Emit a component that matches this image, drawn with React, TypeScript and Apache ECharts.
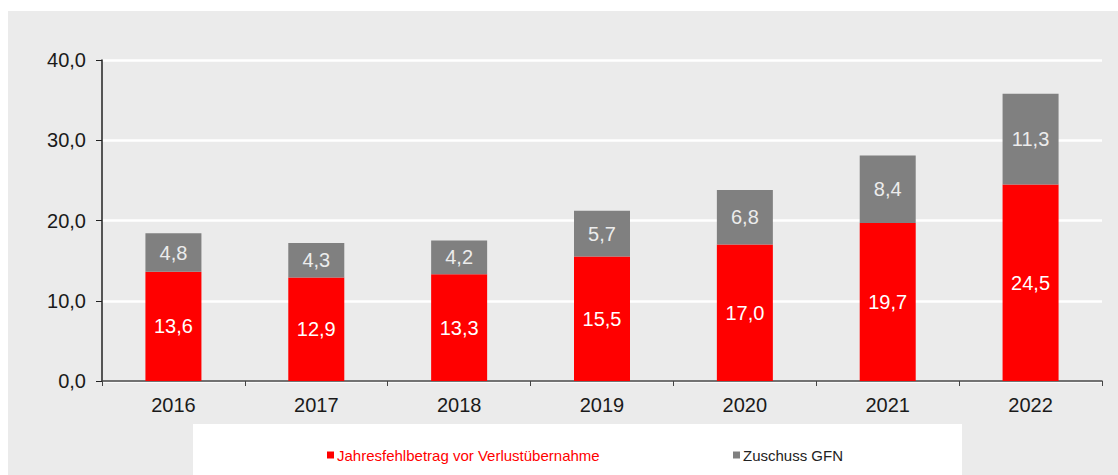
import React, { useEffect, useRef } from "react";
import * as echarts from "echarts";

const years = ["2016", "2017", "2018", "2019", "2020", "2021", "2022"];
const jahresfehlbetrag = [13.6, 12.9, 13.3, 15.5, 17.0, 19.7, 24.5];
const zuschuss = [4.8, 4.3, 4.2, 5.7, 6.8, 8.4, 11.3];
const seriesNames = ["Jahresfehlbetrag vor Verlustübernahme", "Zuschuss GFN"];
const yTicks = { min: 0, max: 40, interval: 10 };

const FONT = '"Liberation Sans", Arial, sans-serif';
const fmt = (v: number) => v.toFixed(1).replace(".", ",");

export default function App() {
  const ref = useRef<HTMLDivElement>(null);
  useEffect(() => {
    if (!ref.current) return;
    const chart = echarts.init(ref.current, undefined, { renderer: "svg" });
    chart.setOption({
      animation: false,
      textStyle: { fontFamily: FONT },
      grid: { left: 102, right: 16, top: 60, bottom: 94, containLabel: false },
      legend: [
        {
          data: [{ name: seriesNames[0], textStyle: { color: "#ff0000" } }],
          left: 322,
          top: 442,
          itemWidth: 7,
          itemHeight: 7,
          icon: "rect",
          textStyle: { fontSize: 15, fontFamily: FONT, lineHeight: 16, padding: [0, 0, 0, -2] },
          selectedMode: false,
        },
        {
          data: [{ name: seriesNames[1], textStyle: { color: "#222" } }],
          left: 728,
          top: 442,
          itemWidth: 7,
          itemHeight: 7,
          icon: "rect",
          textStyle: { fontSize: 15, fontFamily: FONT, lineHeight: 16, padding: [0, 0, 0, -2] },
          selectedMode: false,
        },
      ],
      xAxis: {
        type: "category",
        data: years,
        axisLine: { lineStyle: { color: "#444", width: 1.5 } },
        axisTick: { show: true, length: 5, lineStyle: { color: "#444" } },
        axisLabel: { fontSize: 20, color: "#1a1a1a", margin: 14, fontFamily: FONT },
      },
      yAxis: {
        type: "value",
        min: yTicks.min,
        max: yTicks.max,
        interval: yTicks.interval,
        axisLine: { show: true, lineStyle: { color: "#222", width: 1.5 } },
        axisTick: { show: true, length: 6, lineStyle: { color: "#222" } },
        axisLabel: { fontSize: 20, color: "#1a1a1a", margin: 16, formatter: (v: number) => fmt(v), fontFamily: FONT },
        splitLine: { show: true, lineStyle: { color: "#ffffff", width: 2.5 } },
      },
      series: [
        {
          name: seriesNames[0],
          type: "bar",
          stack: "total",
          barWidth: 56,
          data: jahresfehlbetrag,
          itemStyle: { color: "#ff0000" },
          label: {
            show: true,
            position: "inside",
            color: "#ffffff",
            fontSize: 20,
            fontFamily: FONT,
            formatter: (p: any) => fmt(p.value),
          },
        },
        {
          name: seriesNames[1],
          type: "bar",
          stack: "total",
          barWidth: 56,
          data: zuschuss,
          itemStyle: { color: "#808080" },
          label: {
            show: true,
            position: "inside",
            color: "#ececec",
            fontSize: 20,
            fontFamily: FONT,
            formatter: (p: any) => fmt(p.value),
          },
        },
      ],
    });
    return () => chart.dispose();
  }, []);

  return (
    <div style={{ position: "absolute", left: 0, top: 0, width: 1118, height: 475, background: "#ffffff" }}>
      <div style={{ position: "absolute", left: 8, top: 11, width: 1110, height: 464, background: "#ebebeb" }} />
      <div style={{ position: "absolute", left: 193, top: 424, width: 769, height: 51, background: "#ffffff" }} />
      <div ref={ref} style={{ position: "absolute", left: 0, top: 0, width: 1118, height: 475 }} />
    </div>
  );
}
